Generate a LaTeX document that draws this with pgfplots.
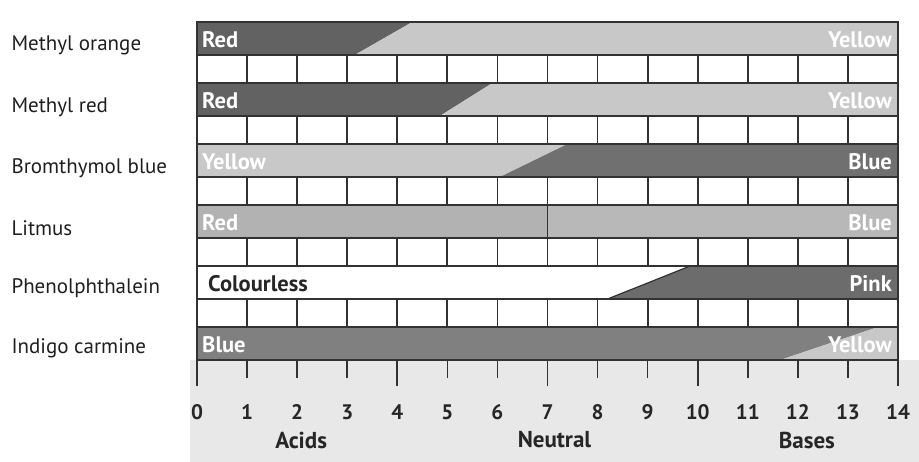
\documentclass[border=0pt]{standalone}
\usepackage{fontspec}
\setmainfont{PT Sans}
\usepackage{pgfplots}
\pgfplotsset{compat=1.18}
\definecolor{dk}{RGB}{98,98,98}
\definecolor{lt}{RGB}{200,200,200}
\definecolor{bbblue}{RGB}{112,112,112}
\definecolor{litred}{RGB}{178,178,178}
\definecolor{litblue}{RGB}{184,184,184}
\definecolor{pink}{RGB}{108,108,108}
\definecolor{icblue}{RGB}{128,128,128}
\definecolor{edge}{RGB}{50,50,50}
\definecolor{bggray}{RGB}{232,232,232}
\begin{document}
\begin{tikzpicture}
\useasboundingbox (0,0) rectangle (919bp,462bp);
\begin{axis}[
  at={(197bp,102bp)}, anchor=south west,
  scale only axis, width=701bp, height=338bp,
  xmin=0, xmax=14, ymin=102, ymax=440,
  clip=false, axis on top,
  axis x line*=bottom, axis y line*=left,
  axis line style={draw=none},
  xtick={0,1,...,14},
  tick align=outside,
  major tick length=18bp,
  x tick style={color=edge, line width=1.6bp},
  y tick style={draw=none},
  extra x ticks={0,4,7,10,14},
  extra x tick labels={},
  extra x tick style={major tick length=26bp},
  /pgf/number format/assume math mode=true,
  xticklabel style={font=\bfseries\fontsize{21bp}{23bp}\selectfont, text=black!85, yshift=-23bp},
  ytick={417,355,294,234,174,114},
  yticklabels={Methyl orange,Methyl red,Bromthymol blue,Litmus,Phenolphthalein,Indigo carmine},
  yticklabel style={anchor=west, xshift=-171bp, font=\fontsize{21bp}{23bp}\selectfont, text=black!88},
]
% background of the scale area
\addplot[fill=bggray, draw=none] coordinates {(-0.14,102) (14.45,102) (14.45,0) (-0.14,0)} --cycle;
% Methyl orange
\addplot[fill=dk, draw=none] coordinates {(0,407) (3.15,407) (4.3,440) (0,440)} --cycle;
\addplot[fill=lt, draw=none] coordinates {(3.15,407) (14,407) (14,440) (4.3,440)} --cycle;
% Methyl red
\addplot[fill=dk, draw=none] coordinates {(0,346) (4.85,346) (5.9,379) (0,379)} --cycle;
\addplot[fill=lt, draw=none] coordinates {(4.85,346) (14,346) (14,379) (5.9,379)} --cycle;
% Bromthymol blue
\addplot[fill=lt, draw=none] coordinates {(0,285) (6.05,285) (7.4,318) (0,318)} --cycle;
\addplot[fill=bbblue, draw=none] coordinates {(6.05,285) (14,285) (14,318) (7.4,318)} --cycle;
% Litmus
\addplot[fill=litred, draw=none] coordinates {(0,224) (7,224) (7,257) (0,257)} --cycle;
\addplot[fill=litblue, draw=none] coordinates {(7,224) (14,224) (14,257) (7,257)} --cycle;
\addplot[draw=edge, line width=1.6bp] coordinates {(7,224) (7,257)};
% Phenolphthalein
\addplot[fill=white, draw=none] coordinates {(0,163) (8.2,163) (9.85,196) (0,196)} --cycle;
\addplot[fill=pink, draw=edge, line width=1.2bp] coordinates {(8.2,163) (14,163) (14,196) (9.85,196)} --cycle;
% Indigo carmine
\addplot[fill=icblue, draw=none] coordinates {(0,102) (11.65,102) (13.6,135) (0,135)} --cycle;
\addplot[fill=lt, draw=none] coordinates {(11.65,102) (14,102) (14,135) (13.6,135)} --cycle;
% brick separators
\addplot[only marks, mark=|, mark size=14bp, mark options={draw=edge, line width=1.8bp}]
  coordinates {(1,393)(2,393)(3,393)(4,393)(5,393)(6,393)(7,393)(8,393)(9,393)(10,393)(11,393)(12,393)(13,393)};
\addplot[only marks, mark=|, mark size=14bp, mark options={draw=edge, line width=1.8bp}]
  coordinates {(1,332)(2,332)(3,332)(4,332)(5,332)(6,332)(7,332)(8,332)(9,332)(10,332)(11,332)(12,332)(13,332)};
\addplot[only marks, mark=|, mark size=14bp, mark options={draw=edge, line width=1.8bp}]
  coordinates {(1,271)(2,271)(3,271)(4,271)(5,271)(6,271)(7,271)(8,271)(9,271)(10,271)(11,271)(12,271)(13,271)};
\addplot[only marks, mark=|, mark size=14bp, mark options={draw=edge, line width=1.8bp}]
  coordinates {(1,210)(2,210)(3,210)(4,210)(5,210)(6,210)(7,210)(8,210)(9,210)(10,210)(11,210)(12,210)(13,210)};
\addplot[only marks, mark=|, mark size=14bp, mark options={draw=edge, line width=1.8bp}]
  coordinates {(1,149)(2,149)(3,149)(4,149)(5,149)(6,149)(7,149)(8,149)(9,149)(10,149)(11,149)(12,149)(13,149)};
% bar outlines
\addplot[draw=edge, line width=2bp] coordinates {(0,407) (14,407) (14,440) (0,440)} --cycle;
\addplot[draw=edge, line width=2bp] coordinates {(0,346) (14,346) (14,379) (0,379)} --cycle;
\addplot[draw=edge, line width=2bp] coordinates {(0,285) (14,285) (14,318) (0,318)} --cycle;
\addplot[draw=edge, line width=2bp] coordinates {(0,224) (14,224) (14,257) (0,257)} --cycle;
\addplot[draw=edge, line width=2bp] coordinates {(0,163) (14,163) (14,196) (0,196)} --cycle;
\addplot[draw=edge, line width=2bp] coordinates {(0,102) (14,102) (14,135) (0,135)} --cycle;
% outer frame verticals
\addplot[draw=edge, line width=2bp] coordinates {(0,102) (0,440)};
\addplot[draw=edge, line width=2bp] coordinates {(14,102) (14,440)};
% labels in bars
\tikzset{inbar/.style={font=\bfseries\fontsize{22.5bp}{24bp}\selectfont, text=white, inner sep=1bp}}
\node[inbar, anchor=west] at (axis cs:0.08,422) {Red};
\node[inbar, anchor=east] at (axis cs:13.9,422) {Yellow};
\node[inbar, anchor=west] at (axis cs:0.08,361) {Red};
\node[inbar, anchor=east] at (axis cs:13.9,361) {Yellow};
\node[inbar, anchor=west] at (axis cs:0.08,300) {Yellow};
\node[inbar, anchor=east] at (axis cs:13.9,300) {Blue};
\node[inbar, anchor=west] at (axis cs:0.08,239) {Red};
\node[inbar, anchor=east] at (axis cs:13.9,239) {Blue};
\node[inbar, anchor=west, text=black!85] at (axis cs:0.2,178) {Colourless};
\node[inbar, anchor=east] at (axis cs:13.9,178) {Pink};
\node[inbar, anchor=west] at (axis cs:0.08,117) {Blue};
\node[inbar, anchor=east] at (axis cs:13.9,117) {Yellow};
% region labels
\node[font=\bfseries\fontsize{23bp}{25bp}\selectfont, text=black!85] at (axis cs:2.08,22) {Acids};
\node[font=\bfseries\fontsize{23bp}{25bp}\selectfont, text=black!85] at (axis cs:7.14,22) {Neutral};
\node[font=\bfseries\fontsize{23bp}{25bp}\selectfont, text=black!85] at (axis cs:12.18,22) {Bases};
\end{axis}
\end{tikzpicture}
\end{document}
